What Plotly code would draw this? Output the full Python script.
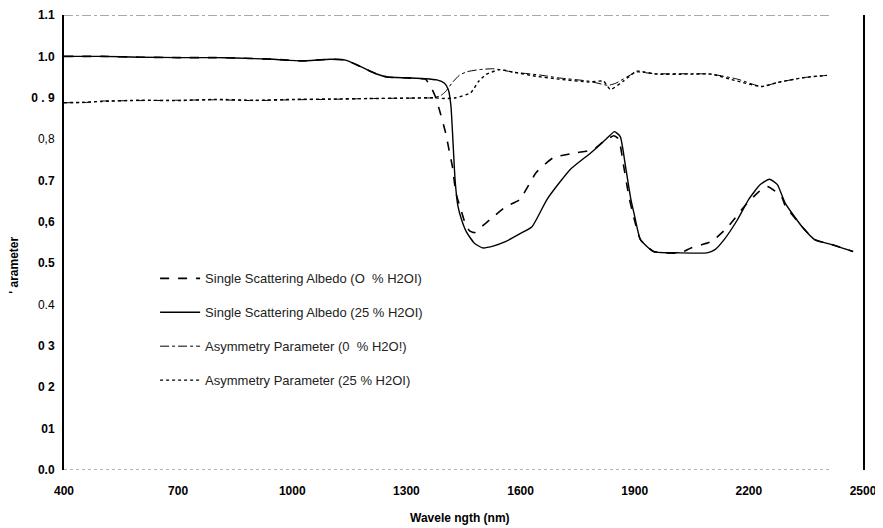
import plotly.graph_objects as go

# ---- data ----
ssa25_wl = [400, 500, 600, 700, 800, 850, 950, 1024, 1100, 1140, 1180, 1220, 1250, 1300, 1350,
            1380, 1400, 1410, 1417, 1422, 1428, 1435, 1445, 1458, 1478, 1500, 1530, 1560, 1600,
            1630, 1670, 1730, 1785, 1825, 1847, 1862, 1876, 1890, 1900, 1915, 1950, 2020, 2090,
            2110, 2135, 2170, 2200, 2230, 2254, 2275, 2295, 2340, 2373, 2418, 2474]
ssa25_val = [1.0, 1.0, 0.998, 0.997, 0.997, 0.996, 0.993, 0.989, 0.993, 0.991, 0.975, 0.958, 0.95, 0.948, 0.946,
             0.943, 0.935, 0.92, 0.88, 0.80, 0.70, 0.64, 0.605, 0.575, 0.549, 0.537, 0.542, 0.552, 0.572,
             0.588, 0.655, 0.726, 0.767, 0.80, 0.818, 0.806, 0.733, 0.654, 0.613, 0.557, 0.528, 0.525, 0.525,
             0.532, 0.557, 0.605, 0.655, 0.69, 0.703, 0.69, 0.646, 0.588, 0.557, 0.545, 0.528]

ssa0_wl = [400, 500, 600, 700, 800, 850, 950, 1024, 1100, 1140, 1180, 1220, 1250, 1300, 1340,
           1350, 1365, 1376, 1390, 1403, 1415, 1421, 1430, 1443, 1455, 1466, 1479, 1500, 1519, 1562,
           1598, 1641, 1686, 1747, 1792, 1818, 1845, 1858, 1870, 1885, 1897, 1915, 1950, 2020, 2048,
           2101, 2143, 2188, 2223, 2249, 2286, 2295, 2340, 2373, 2418, 2474]
ssa0_val = [1.0, 1.0, 0.998, 0.997, 0.997, 0.996, 0.993, 0.989, 0.993, 0.991, 0.975, 0.958, 0.95, 0.948, 0.946,
            0.945, 0.925, 0.903, 0.86, 0.815, 0.76, 0.733, 0.67, 0.63, 0.595, 0.578, 0.574, 0.59, 0.605, 0.637,
            0.654, 0.719, 0.755, 0.767, 0.775, 0.794, 0.808, 0.80, 0.74, 0.66, 0.613, 0.557, 0.528, 0.525, 0.537,
            0.552, 0.586, 0.637, 0.67, 0.685, 0.661, 0.64, 0.588, 0.557, 0.545, 0.528]

asym0_wl = [400, 450, 500, 600, 700, 800, 900, 1000, 1100, 1200, 1300, 1370, 1390, 1403, 1421, 1440,
            1460, 1492, 1530, 1580, 1650, 1700, 1780, 1830, 1850, 1905, 1950, 2050, 2101, 2170, 2233,
            2276, 2347, 2405]
asym0_val = [0.888, 0.888, 0.892, 0.893, 0.894, 0.895, 0.893, 0.895, 0.896, 0.898, 0.899, 0.90, 0.905, 0.915,
             0.937, 0.955, 0.963, 0.968, 0.97, 0.962, 0.955, 0.948, 0.94, 0.93, 0.935, 0.962, 0.958, 0.958,
             0.957, 0.945, 0.927, 0.937, 0.949, 0.954]

asym25_wl = [400, 450, 500, 600, 700, 800, 900, 1000, 1100, 1200, 1300, 1370, 1400, 1430, 1469, 1490,
             1509, 1545, 1580, 1640, 1700, 1780, 1818, 1836, 1870, 1905, 1958, 2037, 2101, 2170, 2233,
             2276, 2347, 2405]
asym25_val = [0.888, 0.889, 0.891, 0.894, 0.893, 0.896, 0.894, 0.896, 0.897, 0.898, 0.899, 0.90, 0.898, 0.90,
              0.912, 0.94, 0.956, 0.968, 0.962, 0.952, 0.945, 0.938, 0.94, 0.92, 0.94, 0.964, 0.957, 0.957,
              0.957, 0.94, 0.927, 0.937, 0.949, 0.954]

names = ["Single Scattering Albedo (O  % H2OI)",
         "Single Scattering Albedo (25 % H2OI)",
         "Asymmetry Parameter (0  % H2O!)",
         "Asymmetry Parameter (25 % H2OI)"]

x_ticks = [400, 700, 1000, 1300, 1600, 1900, 2200, 2500]
y_ticks = [0.0, 0.1, 0.2, 0.3, 0.4, 0.5, 0.6, 0.7, 0.8, 0.9, 1.0, 1.1]
y_ticktext = ["<b>0.0</b>", "<b>01</b>", "<b>0 2</b>", "<b>0 3</b>", "0.4", "<b>0.5</b>",
              "<b>0,6</b>", "<b>0.7</b>", "0,8", "<b>0 . 9</b>", "<b>1.0</b>", "<b>1.1</b>"]

fig = go.Figure()
series = [
    (ssa0_wl, ssa0_val, names[0], "dash", 1.6),
    (ssa25_wl, ssa25_val, names[1], "solid", 1.4),
    (asym0_wl, asym0_val, names[2], "dashdot", 1.0),
    (asym25_wl, asym25_val, names[3], "dot", 1.4),
]
for i, (xw, yv, nm, dash, w) in enumerate(series):
    fig.add_trace(go.Scatter(
        x=xw, y=yv, name=nm, mode="lines", legendgroup=f"g{i}",
        line=dict(color="black", width=w, dash=dash, shape="spline", smoothing=0.5),
    ))

# the page body adds an 8px offset, so the figure is 8px smaller than the window
fig.update_layout(
    width=875, height=520,
    margin=dict(l=56, r=20, t=7, b=58, autoexpand=False),
    paper_bgcolor="white", plot_bgcolor="white",
    font=dict(family="Liberation Sans, Arial, sans-serif", color="black"),
    showlegend=True,
    legend=dict(x=0.114, y=0.454, xanchor="left", yanchor="top",
                bgcolor="rgba(0,0,0,0)", font=dict(size=13, color="#222"),
                tracegroupgap=14, itemwidth=40),
    xaxis=dict(range=[400, 2500], tickvals=x_ticks, automargin=False,
               ticktext=[f"<b>{t}</b>" for t in x_ticks],
               showgrid=False, zeroline=False, showline=False, ticks="",
               tickfont=dict(size=12), ticklabelstandoff=12),
    yaxis=dict(range=[0, 1.1], tickvals=y_ticks, ticktext=y_ticktext, automargin=False,
               showgrid=False, zeroline=False, showline=True, linecolor="black",
               linewidth=2, mirror=True, ticks="", tickfont=dict(size=12),
               ticklabelstandoff=5),
    annotations=[
        dict(text="<b>Wavele ngth (nm)</b>", xref="paper", yref="paper", x=0.496, y=-0.105,
             showarrow=False, font=dict(size=12), xanchor="center", yanchor="middle"),
        dict(text="<b>' arameter</b>", xref="paper", yref="paper", x=-0.062, y=0.45,
             showarrow=False, font=dict(size=12), textangle=-90,
             xanchor="center", yanchor="middle"),
    ],
)

# fragmented top and bottom frame lines of the scanned figure
fig.add_shape(type="line", xref="paper", yref="y", x0=0, x1=0.96, y0=1.1, y1=1.1,
              line=dict(color="#555", width=1, dash="dashdot"))
fig.add_shape(type="line", xref="paper", yref="y", x0=0, x1=0.96, y0=0, y1=0,
              line=dict(color="#666", width=1, dash="dot"))

fig.write_html("out.html")
